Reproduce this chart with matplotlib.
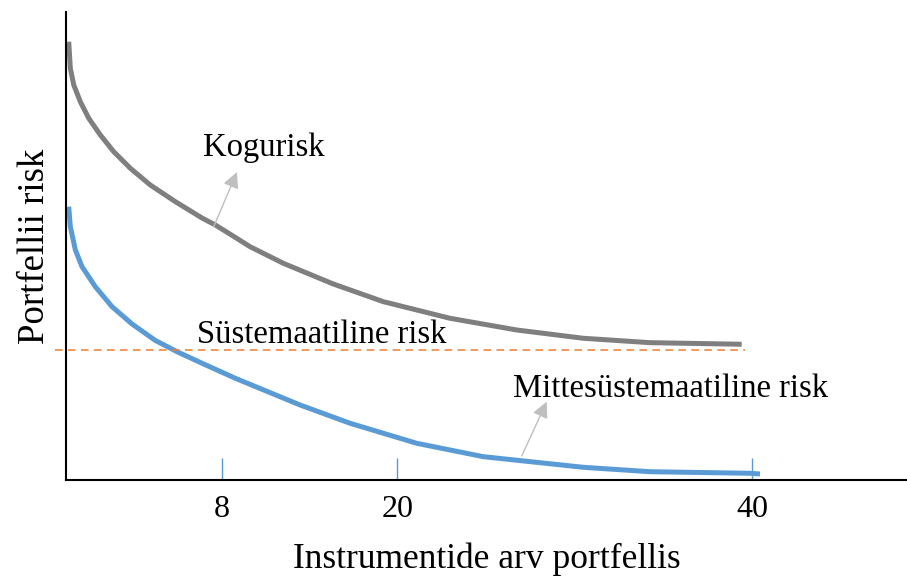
import matplotlib
matplotlib.use("Agg")
import matplotlib.pyplot as plt

plt.rcParams["font.family"] = ["Liberation Serif", "DejaVu Serif"]

# curve points (x in chart units 0..100, y in 0..100)
kogu_x = [0.32, 0.51, 0.92, 1.70, 2.70, 4.08, 5.67, 7.65, 10.02, 13.00, 16.17, 17.75,
          19.35, 21.88, 25.84, 31.78, 37.73, 45.66, 53.59, 61.51, 69.44, 80.34]
kogu_y = [93.65, 87.97, 84.40, 80.83, 77.29, 73.72, 70.15, 66.60, 63.03, 59.47, 55.98, 54.49,
          52.71, 49.85, 46.30, 41.88, 38.10, 34.55, 32.05, 30.28, 29.34, 29.00]

mitte_x = [0.32, 0.51, 1.11, 1.90, 3.48, 5.47, 7.85, 10.62, 13.20, 16.17, 20.13,
           27.82, 33.77, 41.70, 49.62, 61.51, 69.44, 81.33, 82.52]
mitte_y = [58.40, 54.12, 49.15, 45.58, 41.30, 37.03, 33.33, 29.81, 27.41, 24.94, 21.73,
           16.03, 12.12, 7.84, 4.98, 2.71, 1.77, 1.43, 1.28]

syst_level = 27.8
syst_x = [-1.3, 80.7]

tick_pos = [18.5, 39.4, 81.6]
tick_labels = ["8", "20", "40"]

fig = plt.figure(figsize=(9.07, 5.76), dpi=100)
ax = fig.add_axes([0.0728, 0.1667, 0.9272, 0.8125])

ax.plot(kogu_x, kogu_y, color="#7f7f7f", lw=3.6, solid_capstyle="butt", solid_joinstyle="round")
ax.plot(mitte_x, mitte_y, color="#5b9bd5", lw=3.6, solid_capstyle="butt", solid_joinstyle="round")
ax.plot(syst_x, [syst_level, syst_level], color="#ed7d31", lw=1.1, dashes=(5, 3.5), clip_on=False)

arrow = dict(arrowstyle="-|>", color="#bfbfbf", lw=1.0, mutation_scale=24, shrinkA=0, shrinkB=0)
ax.annotate("", xy=(20.33, 65.81), xytext=(17.56, 54.12), arrowprops=arrow)
ax.annotate("", xy=(57.16, 16.73), xytext=(54.19, 5.13), arrowprops=arrow)

ax.text(16.29, 69.23, "Kogurisk", fontsize=23.5, va="baseline", ha="left")
ax.text(15.58, 29.34, "Süstemaatiline risk", fontsize=23.5, va="baseline", ha="left")
ax.text(53.15, 17.8, "Mittesüstemaatiline risk", fontsize=23.5, va="baseline", ha="left")

ax.set_xlim(0, 100)
ax.set_ylim(0, 100)
ax.set_xticks(tick_pos)
ax.set_xticklabels(tick_labels, fontsize=23)
ax.set_yticks([])
ax.tick_params(axis="x", direction="in", length=16, width=1, color="#5b9bd5", pad=11)

for s in ["top", "right"]:
    ax.spines[s].set_visible(False)
ax.spines["left"].set_linewidth(1.5)
ax.spines["bottom"].set_linewidth(1.5)

ax.set_xlabel("Instrumentide arv portfellis", fontsize=25.5, labelpad=13)
ax.set_ylabel("Portfellii risk", fontsize=26.5, labelpad=10)

fig.savefig("out.png", dpi=100)
